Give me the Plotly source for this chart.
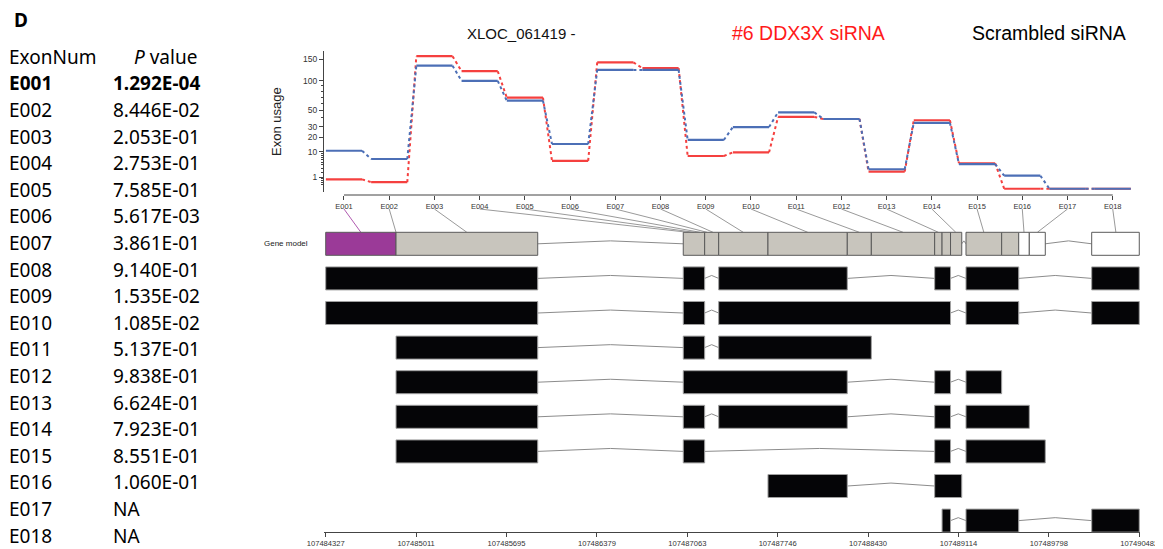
import plotly.graph_objects as go

# ---------------- data ----------------
exons = ["E001", "E002", "E003", "E004", "E005", "E006", "E007", "E008", "E009",
         "E010", "E011", "E012", "E013", "E014", "E015", "E016", "E017", "E018"]
pvalues = ["1.292E-04", "8.446E-02", "2.053E-01", "2.753E-01", "7.585E-01", "5.617E-03",
           "3.861E-01", "9.140E-01", "1.535E-02", "1.085E-02", "5.137E-01", "9.838E-01",
           "6.624E-01", "7.923E-01", "8.551E-01", "1.060E-01", "NA", "NA"]
usage_sirna = [0.7, 0.4, 158, 121, 69, 5.5, 142, 128, 7.7, 9.6, 41, 38.5, 2.1, 37, 4.6, 0.03, 0.03, 0.03]
usage_scrambled = [10.5, 6.3, 134, 100, 64, 14.8, 124, 124, 17.8, 29.5, 47, 38.5, 2.7, 34, 4.3, 1.26, 0.03, 0.03]
usage_ticks = [1, 10, 20, 30, 50, 100, 150]
usage_minor = [0.2, 0.4, 0.6, 0.8, 2, 3, 4, 5, 6, 7, 8, 9, 40, 60, 70, 80, 90]

# exon anchor position of each label on the gene model (genomic coordinate)
exon_anchor = [107484593, 107484859, 107485395, 107487068, 107487113, 107487159, 107487212,
               107487257, 107487486, 107487974, 107488364, 107488695, 107488962, 107489094,
               107489306, 107489610, 107489711, 107490305]

# gene model parts (start, end, fill)
model_start = [107484327, 107484859, 107487032, 107487194, 107487300, 107487673, 107488273,
               107488455, 107488934, 107488990, 107489054, 107489171, 107489441, 107489570,
               107489650, 107490122]
model_end = [107484859, 107485931, 107487194, 107487300, 107487673, 107488273, 107488455,
             107488934, 107488990, 107489054, 107489139, 107489441, 107489570, 107489650,
             107489771, 107490482]
model_fill = ["purple", "gray", "gray", "gray", "gray", "gray", "gray", "gray", "gray", "gray",
              "gray", "gray", "gray", "white", "white", "white"]
model_blocks = [(107484327, 107485931), (107487032, 107489139), (107489171, 107489771),
                (107490122, 107490482)]

transcripts = [
    [(107484327, 107485931), (107487032, 107487194), (107487300, 107488273), (107488934, 107489054), (107489171, 107489570), (107490122, 107490482)],
    [(107484327, 107485931), (107487032, 107487194), (107487300, 107489054), (107489171, 107489570), (107490122, 107490482)],
    [(107484859, 107485931), (107487032, 107487194), (107487300, 107488455)],
    [(107484859, 107485931), (107487032, 107488273), (107488934, 107489054), (107489171, 107489441)],
    [(107484859, 107485931), (107487032, 107487194), (107487300, 107488273), (107488934, 107489054), (107489171, 107489650)],
    [(107484859, 107485931), (107487032, 107487194), (107488934, 107489054), (107489171, 107489771)],
    [(107487673, 107488273), (107488934, 107489139)],
    [(107488990, 107489054), (107489171, 107489570), (107490122, 107490482)],
]

genome_ticks = [107484327, 107485011, 107485695, 107486379, 107487063, 107487746,
                107488430, 107489114, 107489798, 107490482]

# ---------------- layout helpers ----------------
OFF = 8                      # page body margin of the html page
W, H = 1163 - OFF, 549 - OFF
def fx(p): return (p - OFF) / W
def fy(p): return 1 - (p - OFF) / H

POW = 0.44
def T(v): return v ** POW

RED = "#F5403F"
BLUE = "#4C6FB6"
FILLS = {"purple": "#9B3A98", "gray": "#C8C5BD", "white": "#FFFFFF"}
CH_FONT = "Liberation Sans, Arial, sans-serif"
TB_FONT = "Noto Sans, sans-serif"

X_RANGE = [0.558, 18.603]
G_RANGE = [107484314.1, 107490487.5]
def idx_to_g(i):
    return G_RANGE[0] + (i - X_RANGE[0]) / (X_RANGE[1] - X_RANGE[0]) * (G_RANGE[1] - G_RANGE[0])

HALF = 0.3325   # half box height in row units
PEAK = 0.085

fig = go.Figure()

# ---------------- exon usage traces ----------------
for vals, col in [(usage_sirna, RED), (usage_scrambled, BLUE)]:
    xs, ys, cx, cy = [], [], [], []
    for i, v in enumerate(vals):
        pos = i + 1
        xs += [pos - 0.4, pos + 0.4, None]
        ys += [T(v), T(v), None]
        if i + 1 < len(vals):
            cx += [pos + 0.4, pos + 0.6, None]
            cy += [T(v), T(vals[i + 1]), None]
    fig.add_trace(go.Scatter(x=cx, y=cy, mode="lines", line=dict(color=col, width=2, dash="dot"),
                             xaxis="x", yaxis="y", showlegend=False, hoverinfo="skip", cliponaxis=False))
    fig.add_trace(go.Scatter(x=xs, y=ys, mode="lines", line=dict(color=col, width=2.2),
                             xaxis="x", yaxis="y", showlegend=False, hoverinfo="skip", cliponaxis=False))

# ---------------- connector lines from labels to gene model ----------------
for i, g in enumerate(exon_anchor):
    fig.add_trace(go.Scatter(x=[idx_to_g(i + 1), g], y=[-1.006, -HALF], mode="lines",
                             line=dict(color="#B05AB0" if i == 0 else "#9A9A9A", width=1),
                             xaxis="x2", yaxis="y2", showlegend=False, hoverinfo="skip"))

# ---------------- introns ----------------
def intron_trace(blocks, row):
    xs, ys = [], []
    for (a0, a1), (b0, b1) in zip(blocks[:-1], blocks[1:]):
        xs += [a1, (a1 + b0) / 2, b0, None]
        ys += [row, row - PEAK, row, None]
    return go.Scatter(x=xs, y=ys, mode="lines", line=dict(color="#8C8C8C", width=1),
                      xaxis="x2", yaxis="y2", showlegend=False, hoverinfo="skip")

fig.add_trace(intron_trace(model_blocks, 0))
for r, tr in enumerate(transcripts):
    fig.add_trace(intron_trace(tr, r + 1))

shapes = []
for s, e, f in zip(model_start, model_end, model_fill):
    shapes.append(dict(type="rect", xref="x2", yref="y2", x0=s, x1=e, y0=-HALF, y1=HALF,
                       fillcolor=FILLS[f], line=dict(color="#5A5A5A", width=1), layer="above"))
for r, tr in enumerate(transcripts):
    for s, e in tr:
        shapes.append(dict(type="rect", xref="x2", yref="y2", x0=s, x1=e, y0=r + 1 - HALF,
                           y1=r + 1 + HALF, fillcolor="#050507",
                           line=dict(color="#A0A0A0", width=1), layer="above"))
# R-style x axis line of the usage panel (first to last exon)
shapes.append(dict(type="line", xref="x", yref="paper", x0=1, x1=len(exons),
                   y0=fy(195), y1=fy(195), line=dict(color="#444", width=1)))

# ---------------- annotations ----------------
ann = []
def txt(text, x, y, size, family=TB_FONT, color="#000", anchor="left", **kw):
    ann.append(dict(text=text, x=fx(x), y=fy(y), xref="paper", yref="paper", xanchor=anchor,
                    yanchor="middle", showarrow=False,
                    font=dict(family=family, size=size, color=color), **kw))

txt("<b>D</b>", 12, 20, 19)
txt("ExonNum", 7, 57, 19)
txt("<i>P</i> value", 132, 57, 19)
for k, (e, p) in enumerate(zip(exons, pvalues)):
    yy = 83.3 + k * 26.6
    t1, t2 = (f"<b>{e}</b>", f"<b>{p}</b>") if k == 0 else (e, p)
    txt(t1, 7, yy, 19)
    txt(t2, 111, yy, 19)

txt("XLOC_061419 -", 521, 33, 15, CH_FONT, "#111", "center")
txt("#6 DDX3X siRNA", 808, 33, 19.5, CH_FONT, "#FF1A1A", "center")
txt("Scrambled siRNA", 1049, 33, 19.5, CH_FONT, "#000", "center")
txt("Exon usage", 276, 122, 13, CH_FONT, "#222", "center", textangle=-90)
txt("Gene model", 286, 244, 8, CH_FONT, "#222", "center")

fig.update_layout(
    width=W, height=H, autosize=False,
    margin=dict(l=0, r=0, t=0, b=0, pad=0, autoexpand=False),
    paper_bgcolor="white", plot_bgcolor="white",
    shapes=shapes, annotations=ann, showlegend=False,
    xaxis=dict(domain=[fx(324), fx(1140)], range=X_RANGE, anchor="free", position=fy(195),
               tickmode="array", tickvals=list(range(1, len(exons) + 1)), ticktext=exons,
               ticks="outside", ticklen=4, tickcolor="#444", showline=False, showgrid=False,
               zeroline=False, automargin=False,
               tickfont=dict(family=CH_FONT, size=7.5, color="#333")),
    yaxis=dict(domain=[fy(191.9), fy(51)], range=[0, 9.631], anchor="x",
               tickmode="array", tickvals=[T(v) for v in usage_ticks],
               ticktext=[str(v) for v in usage_ticks], ticks="outside", ticklen=4, tickcolor="#444",
               minor=dict(tickmode="array", tickvals=[T(v) for v in usage_minor], ticks="outside",
                          ticklen=2, tickcolor="#444"),
               showline=True, linecolor="#444", linewidth=1, showgrid=False, zeroline=False,
               automargin=False, tickfont=dict(family=CH_FONT, size=8.5, color="#333")),
    xaxis2=dict(domain=[fx(324), fx(1140)], range=G_RANGE, anchor="y2",
                tickmode="array", tickvals=genome_ticks, ticktext=[str(v) for v in genome_ticks],
                ticks="outside", ticklen=4, tickcolor="#444", showline=True, linecolor="#444",
                linewidth=1, showgrid=False, zeroline=False, automargin=False,
                tickfont=dict(family=CH_FONT, size=7.6, color="#333")),
    yaxis2=dict(domain=[fy(532.3), fy(200)], range=[8.338, -1.266], anchor="x2", visible=False,
                automargin=False),
)

fig.write_html("out.html")
